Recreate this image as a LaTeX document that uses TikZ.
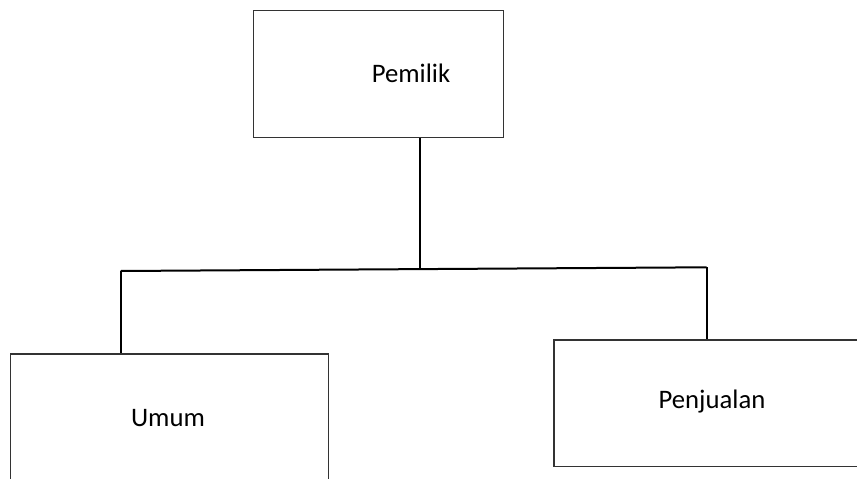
\documentclass[tikz,border=0pt]{standalone}
\usepackage{fontspec}
\setmainfont{Carlito}
\begin{document}
\begin{tikzpicture}[x=1pt,y=-1pt,
  box/.style={draw=black!80, line width=1.3pt, rectangle, inner sep=0pt, anchor=north west},
  lbl/.style={font=\fontsize{26.7}{30}\selectfont, text=black, inner sep=0pt},
  conn/.style={draw=black, line width=2pt}]
\useasboundingbox (0,0) rectangle (857,479);
\clip (0,0) rectangle (857,479);
\node[box, minimum width=250pt, minimum height=127pt] (pem) at (253,10) {};
\node[box, minimum width=318pt, minimum height=140pt] (umum) at (10,353.3) {};
\node[box, minimum width=320pt, minimum height=126.7pt] (pen) at (553.3,339.3) {};
\node[lbl] (tpem) at (411,73) {Pemilik};
\node[lbl] (tumum) at (168,417.7) {Umum};
\node[lbl] (tpen) at (712,401.7) {Penjualan};
\coordinate (j) at (420,269);
\coordinate (l) at (120.7,271);
\coordinate (r) at (706.7,267.3);
\draw[conn] (pem.south -| j) -- (j);
\draw[conn] (l) -- (r);
\draw[conn] (l) -- (l |- umum.north);
\draw[conn] (r) -- (r |- pen.north);
\end{tikzpicture}
\end{document}
